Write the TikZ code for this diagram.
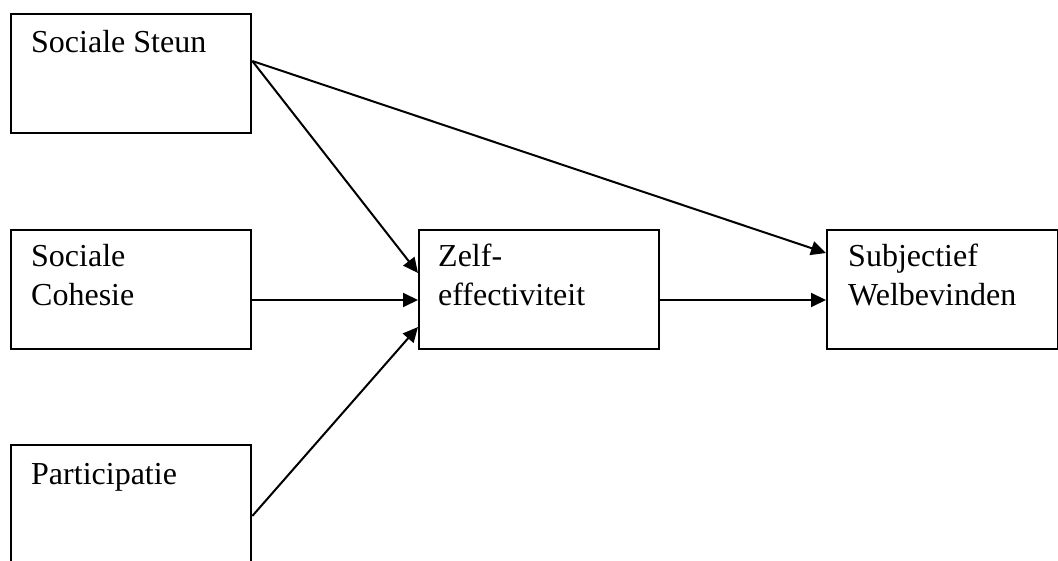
\documentclass[tikz,border=0pt]{standalone}
\usepackage{fontspec}
\setmainfont{Liberation Serif}
\usetikzlibrary{arrows.meta,calc}
\begin{document}
\begin{tikzpicture}[x=1pt,y=-1pt,
  box/.style={draw,line width=2.3pt,anchor=north west,inner sep=0pt,minimum height=119pt},
  txt/.style={anchor=base west,inner sep=0pt,align=left,font=\fontsize{32}{39}\selectfont},
  conn/.style={line width=2pt,-{Triangle[length=15pt,width=14pt]}}]
\useasboundingbox (0,0) rectangle (1058,561);
\clip (0,0) rectangle (1058,561);
\fill[white] (0,0) rectangle (1058,561);
\node[box,minimum width=240pt] (ss) at (10,13) {};
\node[box,minimum width=240pt] (sc) at (10,229) {};
\node[box,minimum width=240pt] (pa) at (10,444) {};
\node[box,minimum width=240pt] (ze) at (418,229) {};
\node[box,minimum width=231pt] (sw) at (826,229) {};
\node[txt] (tss) at ($(ss.north west)+(21,40)$) {Sociale Steun};
\node[txt] (tsc) at ($(sc.north west)+(21,77)$) {Sociale\\Cohesie};
\node[txt] (tpa) at ($(pa.north west)+(21,40)$) {Participatie};
\node[txt] (tze) at ($(ze.north west)+(20,77)$) {Zelf-\\effectiviteit};
\node[txt] (tsw) at ($(sw.north west)+(22,77)$) {Subjectief\\Welbevinden};
\coordinate (s1) at ($(ss.north east)+(0,48)$);
\coordinate (s2) at ($(sc.north east)+(0,71)$);
\coordinate (s3) at ($(pa.north east)+(0,72)$);
\coordinate (s4) at ($(ze.north east)+(0,71)$);
\coordinate (z1) at ($(ze.north west)+(0,44)$);
\coordinate (z2) at ($(ze.north west)+(0,71)$);
\coordinate (z3) at ($(ze.north west)+(0,98)$);
\coordinate (w1) at ($(sw.north west)+(0,24)$);
\coordinate (w2) at ($(sw.north west)+(0,71)$);
\draw[conn] (s1) -- (z1);
\draw[conn] (s1) -- (w1);
\draw[conn] (s2) -- (z2);
\draw[conn] (s3) -- (z3);
\draw[conn] (s4) -- (w2);
\end{tikzpicture}
\end{document}
